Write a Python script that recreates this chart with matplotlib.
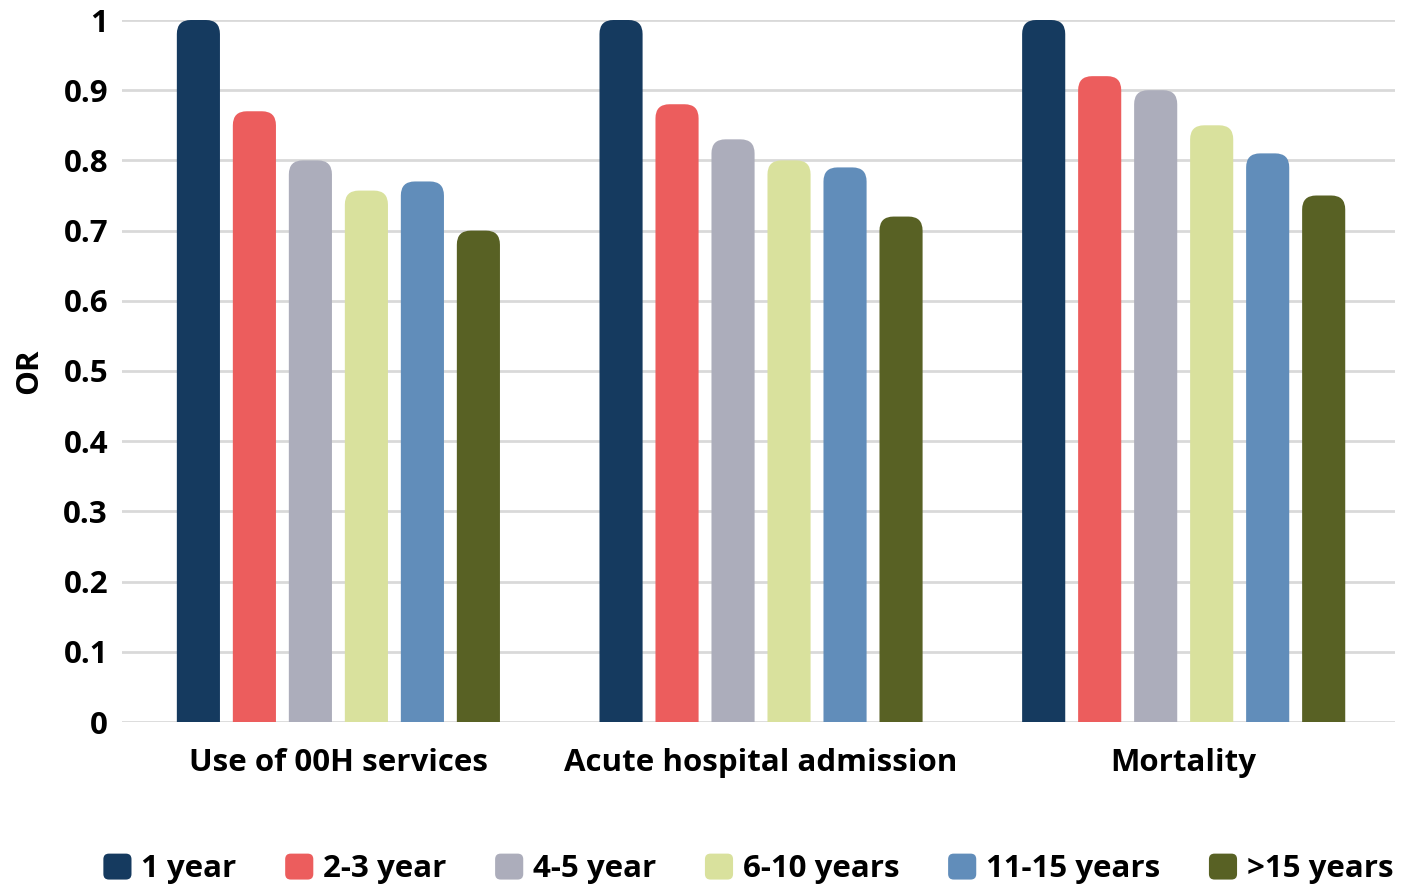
import matplotlib.pyplot as plt
from matplotlib.patches import FancyBboxPatch
from matplotlib.legend_handler import HandlerPatch
import numpy as np

plt.rcParams['font.family'] = ['Open Sans', 'DejaVu Sans']
plt.rcParams['font.weight'] = 'bold'

categories = ["Use of 00H services", "Acute hospital admission", "Mortality"]
series_names = ["1 year", "2-3 year", "4-5 year", "6-10 years", "11-15 years", ">15 years"]
series_values = [
    [1.00, 1.00, 1.00],
    [0.87, 0.88, 0.92],
    [0.80, 0.83, 0.90],
    [0.757, 0.80, 0.85],
    [0.77, 0.79, 0.81],
    [0.70, 0.72, 0.75],
]
colors = ["#153A5F", "#EC5D5D", "#ACADBB", "#D9E19D", "#618DBA", "#586124"]
yticks = [0, 0.1, 0.2, 0.3, 0.4, 0.5, 0.6, 0.7, 0.8, 0.9, 1]
ytick_labels = ["0", "0.1", "0.2", "0.3", "0.4", "0.5", "0.6", "0.7", "0.8", "0.9", "1"]

FS = 22.5
W, H = 1407, 886
fig = plt.figure(figsize=(W / 100, H / 100), dpi=100)
ax = fig.add_axes([122 / W, 1 - 722 / H, (1395 - 122) / W, (722 - 20) / H])

x = np.arange(len(categories))
step = 0.1325
bar_w = 0.102
xlim = (-0.512, 2.5)
ylim = (0, 1.0)
ax.set_xlim(*xlim)
ax.set_ylim(*ylim)

# pixel scale, for rounding the bar tops evenly
px_x = (xlim[1] - xlim[0]) / (1395 - 122)
px_y = (ylim[1] - ylim[0]) / (722 - 20)
radius = 14 * px_x
aspect = px_y / px_x

for i, (vals, col) in enumerate(zip(series_values, colors)):
    offs = x + (i - 2.5) * step
    bars = ax.bar(offs, vals, bar_w, color=col)
    for b in bars:
        b.set_visible(False)
        p = FancyBboxPatch((b.get_x(), -0.05), b.get_width(), b.get_height() + 0.05,
                           boxstyle=f"round,pad=0,rounding_size={radius}",
                           mutation_aspect=aspect, fc=col, ec='none', zorder=3)
        ax.add_patch(p)

ax.set_yticks(yticks)
ax.set_yticklabels(ytick_labels)
ax.set_xticks(x)
ax.set_xticklabels(categories)
ax.tick_params(axis='both', length=0, labelsize=FS)
ax.tick_params(axis='y', pad=10)
ax.tick_params(axis='x', pad=19)
ax.grid(axis='y', color='#D9D9D9', linewidth=2, zorder=0)
ax.set_axisbelow(True)
for s in ax.spines.values():
    s.set_visible(False)
ax.set_ylabel("OR", fontsize=FS, fontweight='bold', labelpad=14)


class RoundHandler(HandlerPatch):
    def create_artists(self, legend, orig_handle, xdescent, ydescent, width, height, fontsize, trans):
        p = FancyBboxPatch((-xdescent, -ydescent), width, height,
                           boxstyle="round,pad=0,rounding_size=4",
                           fc=orig_handle.get_facecolor(), ec='none', transform=trans)
        return [p]


handles = [plt.Rectangle((0, 0), 1, 1, fc=c) for c in colors]
fig.legend(handles, series_names, loc='center', bbox_to_anchor=(0.532, 1 - 869 / H),
           ncol=6, frameon=False, fontsize=FS, handlelength=0.9, handleheight=0.9,
           handletextpad=0.32, columnspacing=1.55, borderpad=0, borderaxespad=0,
           handler_map={plt.Rectangle: RoundHandler()})

fig.savefig("out.png", dpi=100)
